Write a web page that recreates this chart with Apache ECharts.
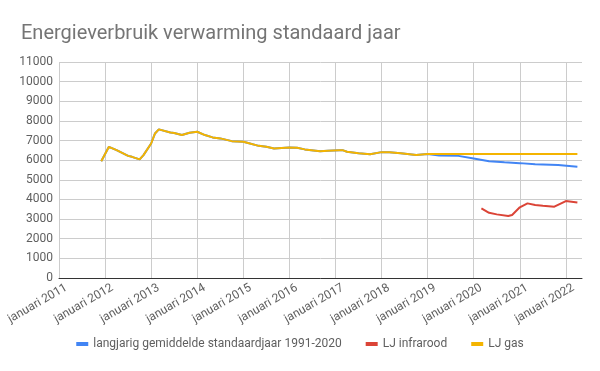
<!DOCTYPE html>
<html><head><meta charset="utf-8">
<script src="https://cdn.jsdelivr.net/npm/echarts@6/dist/echarts.min.js"></script>
<style>html,body{margin:0;padding:0;background:#fff}#c{width:600px;height:371px}</style>
</head><body><div id="c"></div>
<script>
// Shared history (LJ gas == langjarig gemiddelde until jan 2019)
var histDates = ['2011-12','2012-02','2012-04','2012-07','2012-08','2012-10','2012-11','2013-01','2013-02','2013-03','2013-06','2013-07','2013-09','2013-11','2014-01','2014-03','2014-05','2014-07','2014-10','2015-01','2015-02','2015-05','2015-07','2015-09','2016-01','2016-03','2016-05','2016-09','2016-11','2017-02','2017-03','2017-04','2017-07','2017-10','2018-01','2018-03','2018-06','2018-10','2019-01'];
var histValues = [5950,6680,6510,6220,6170,6040,6260,6850,7360,7570,7410,7380,7280,7400,7450,7280,7160,7110,6970,6940,6890,6730,6680,6600,6650,6630,6550,6460,6480,6510,6500,6430,6350,6300,6410,6410,6350,6260,6310];
var gasTailDates = ['2019-04','2020-01','2021-01','2022-01','2022-04'];
var gasTailValues = [6310,6310,6310,6310,6310];
var avgTailDates = ['2019-04','2019-09','2020-01','2020-05','2020-09','2021-01','2021-05','2021-11','2022-04'];
var avgTailValues = [6240,6220,6090,5950,5890,5850,5790,5750,5660];
var redDates = ['2020-03','2020-05','2020-07','2020-10','2020-11','2021-01','2021-03','2021-05','2021-07','2021-10','2022-01','2022-04'];
var redValues = [3550,3320,3240,3160,3210,3600,3800,3720,3680,3630,3920,3850];
var yearTicks = [2011,2012,2013,2014,2015,2016,2017,2018,2019,2020,2021,2022];
var seriesNames = ['langjarig gemiddelde standaardjaar 1991-2020','LJ infrarood','LJ gas'];

function toYear(s){var p=s.split('-');return +p[0]+(+p[1]-1)/12;}
function pairs(d,v){return d.map(function(x,i){return [toYear(x),v[i]];});}
var labelShift = 0.16;

var chart = echarts.init(document.getElementById('c'));
var txt = '#5f5f5f';
chart.setOption({
  animation:false,
  title:{text:'Energieverbruik verwarming standaard jaar',left:16,top:19,
    textStyle:{fontFamily:'Roboto',fontSize:20,fontWeight:'normal',color:'#757575'}},
  grid:{left:59,right:18,top:62,bottom:93,containLabel:false,outerBoundsMode:'none'},
  legend:{bottom:16,left:'center',itemWidth:12,itemHeight:4,itemGap:24,icon:'rect',
    textStyle:{fontFamily:'Roboto',fontSize:12,color:txt},
    data:seriesNames},
  xAxis:{type:'value',min:2011,max:2022.35,interval:1,
    axisLine:{show:true,onZero:false,lineStyle:{color:'#333',width:1}},
    axisTick:{show:false},
    splitLine:{show:true,showMaxLine:false,lineStyle:{color:'#cccccc'}},
    axisLabel:{rotate:30,fontFamily:'Roboto',fontSize:12,color:txt,margin:9,
      customValues:yearTicks.map(function(y){return y+labelShift;}),
      formatter:function(v){return 'januari '+Math.floor(v);}}},
  yAxis:{type:'value',min:0,max:11000,interval:1000,
    axisLine:{show:false},axisTick:{show:false},
    splitLine:{lineStyle:{color:'#cccccc'}},
    axisLabel:{fontFamily:'Roboto',fontSize:12,color:txt,margin:6,
      formatter:function(v){return String(v);}}},
  series:[
    {name:seriesNames[0],type:'line',showSymbol:false,symbol:'none',color:'#4285F4',lineStyle:{width:2},
      data:pairs(histDates.concat(avgTailDates),histValues.concat(avgTailValues))},
    {name:seriesNames[1],type:'line',showSymbol:false,symbol:'none',color:'#DB4437',lineStyle:{width:2},
      data:pairs(redDates,redValues)},
    {name:seriesNames[2],type:'line',showSymbol:false,symbol:'none',color:'#F4B400',lineStyle:{width:2},
      data:pairs(histDates.concat(gasTailDates),histValues.concat(gasTailValues))}
  ]
});
</script></body></html>
